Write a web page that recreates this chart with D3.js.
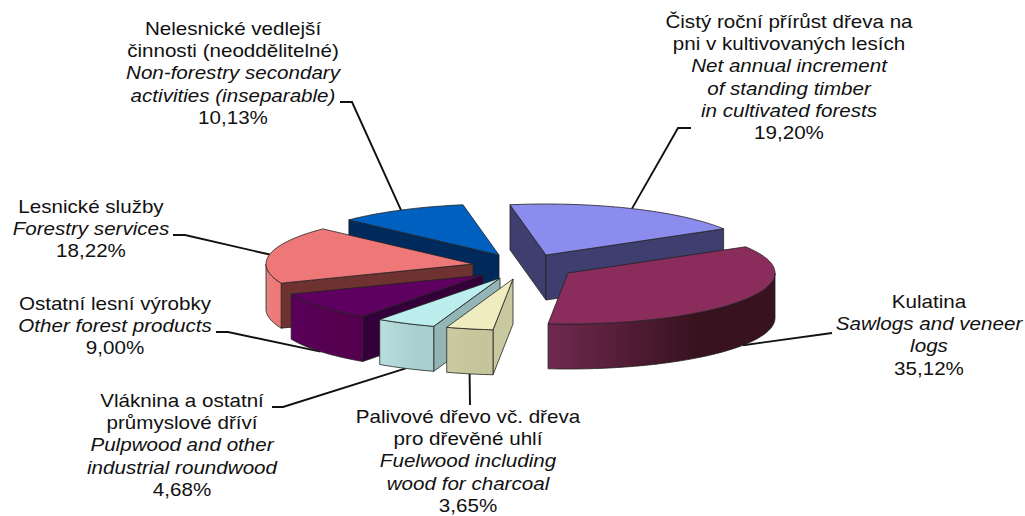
<!DOCTYPE html>
<html>
<head>
<meta charset="utf-8">
<script src="https://cdnjs.cloudflare.com/ajax/libs/d3/7.8.5/d3.min.js"></script>
<style>
    body { margin: 0; background: #fff; }
    svg { display: block; }
    text { font-family: "Liberation Sans", Arial, sans-serif; font-size: 18px; fill: #111; text-anchor: middle; }
    .en { font-style: italic; }
    .leader { fill: none; stroke: #111; stroke-width: 1.9; }
    .edge { stroke: #222; stroke-width: 0.8; stroke-linejoin: round; }
</style>
</head>
<body>
<svg id="chart"></svg>
<script>
// clockwise from the Kulatina slice
var namesCs = [
    ['Kulatina'],
    ['Palivové dřevo vč. dřeva', 'pro dřevěné uhlí'],
    ['Vláknina a ostatní', 'průmyslové dříví'],
    ['Ostatní lesní výrobky'],
    ['Lesnické služby'],
    ['Nelesnické vedlejší', 'činnosti (neoddělitelné)'],
    ['Čistý roční přírůst dřeva na', 'pni v kultivovaných lesích']
];
var namesEn = [
    ['Sawlogs and veneer', 'logs'],
    ['Fuelwood including', 'wood for charcoal'],
    ['Pulpwood and other', 'industrial roundwood'],
    ['Other forest products'],
    ['Forestry services'],
    ['Non-forestry secondary', 'activities (inseparable)'],
    ['Net annual increment', 'of standing timber', 'in cultivated forests']
];
var shares = [35.12, 3.65, 4.68, 9.00, 18.22, 10.13, 19.20];

var topColors = ['#8b2d5c', '#efedbf', '#bdeeee', '#5e005f', '#ee7777', '#0060bf', '#8c8cee'];
var wallColors = ['#3c1427', '#c9c9a0', '#94b5b5', '#34003a', '#6e3230', '#002a5c', '#3f3f6f'];
var outerFrom = ['#70294f', '#cbcba3', '#b8dede', '#5a0059', '#e58383', '#002a5c', '#3f3f6f'];
var outerTo = ['#38121f', '#c5c59b', '#a9d0d0', '#54004f', '#ee7777', '#002a5c', '#3f3f6f'];

var width = 1025,
    height = 516,
    rx = 207,
    ry = 51,
    depth = 45,
    firstAngle = 59.1 * Math.PI / 180,
    textStretch = 1.145,
    lineStep = 22.2;

// exploded position of every slice's centre
var centres = [[568, 273], [513, 279], [500, 278], [483, 275], [473, 264], [499, 255], [546, 255]];
// painted back to front
var paintOrder = [6, 5, 4, 3, 2, 1, 0];

// label centre x, first baseline y, and the elbow points of the leader
var labelX = [929, 468, 182, 115, 91, 233, 789];
var labelY = [308, 423, 407, 310, 213, 35, 28];
var elbows = [[[832, 333]], [[470, 405]], [[283, 407], [272, 407]], [[228, 332], [216, 332]],
    [[185, 235], [173, 235]], [[352, 102], [340, 102]], [[678, 128], [691, 128]]];

var pct = d3.formatLocale({ decimal: ',', thousands: ' ', grouping: [3], currency: ['', ''] }).format('.2f');

var svg = d3.select('#chart').attr('width', width).attr('height', height);
var defs = svg.append('defs');

var slices = d3.pie().sort(null).startAngle(firstAngle).endAngle(firstAngle + 2 * Math.PI)(shares);

function point(i, angle, r, drop) {
    return [centres[i][0] + rx * r * Math.sin(angle),
            centres[i][1] - ry * r * Math.cos(angle) + (drop || 0)];
}

function arcPoints(i, a0, a1, drop) {
    var n = Math.max(2, Math.ceil(Math.abs(a1 - a0) * 40));
    return d3.range(n + 1).map(function (k) {
        return point(i, a0 + (a1 - a0) * k / n, 1, drop);
    });
}

var line = d3.line();

// leaders sit under the slices
slices.forEach(function (s, i) {
    var mid = (s.startAngle + s.endAngle) / 2;
    var anchor = point(i, mid, 1, Math.cos(mid) < 0 ? depth : 0);
    svg.append('path').attr('class', 'leader').attr('d', line([anchor].concat(elbows[i])));
});

paintOrder.forEach(function (i) {
    var s = slices[i],
        a0 = s.startAngle,
        a1 = s.endAngle,
        g = svg.append('g');

    // flat cut faces turned towards the viewer
    [[a0, Math.sin(a0) < 0], [a1, Math.sin(a1) > 0]].forEach(function (e) {
        if (!e[1]) return;
        g.append('path').attr('class', 'edge').attr('fill', wallColors[i])
            .attr('d', line([point(i, 0, 0), point(i, e[0], 1), point(i, e[0], 1, depth), point(i, 0, 0, depth)]) + 'Z');
    });

    // curved outer wall, only the front half of the rim
    var f0 = Math.max(a0, Math.PI / 2),
        f1 = Math.min(a1, 3 * Math.PI / 2);
    if (f1 > f0) {
        var grad = defs.append('linearGradient').attr('id', 'outer' + i);
        grad.append('stop').attr('offset', '0%').attr('stop-color', outerFrom[i]);
        grad.append('stop').attr('offset', '65%').attr('stop-color', outerTo[i]);
        var lower = arcPoints(i, f0, f1, depth),
            upper = arcPoints(i, f1, f0, 0);
        g.append('path').attr('class', 'edge').attr('fill', 'url(#outer' + i + ')')
            .attr('d', line(lower.concat(upper)) + 'Z');
    }

    g.append('path').attr('class', 'edge').attr('fill', topColors[i])
        .attr('d', line([point(i, 0, 0)].concat(arcPoints(i, a0, a1, 0))) + 'Z');
});

shares.forEach(function (v, i) {
    var rows = namesCs[i].map(function (t) { return { t: t, c: '' }; })
        .concat(namesEn[i].map(function (t) { return { t: t, c: 'en' }; }))
        .concat([{ t: pct(v) + '%', c: '' }]);
    svg.append('g').selectAll('text').data(rows).enter().append('text')
        .attr('class', function (d) { return d.c; })
        .attr('transform', function (d, k) {
            return 'translate(' + labelX[i] + ',' + (labelY[i] + k * lineStep) + ') scale(' + textStretch + ',1)';
        })
        .text(function (d) { return d.t; });
});
</script>
</body>
</html>
